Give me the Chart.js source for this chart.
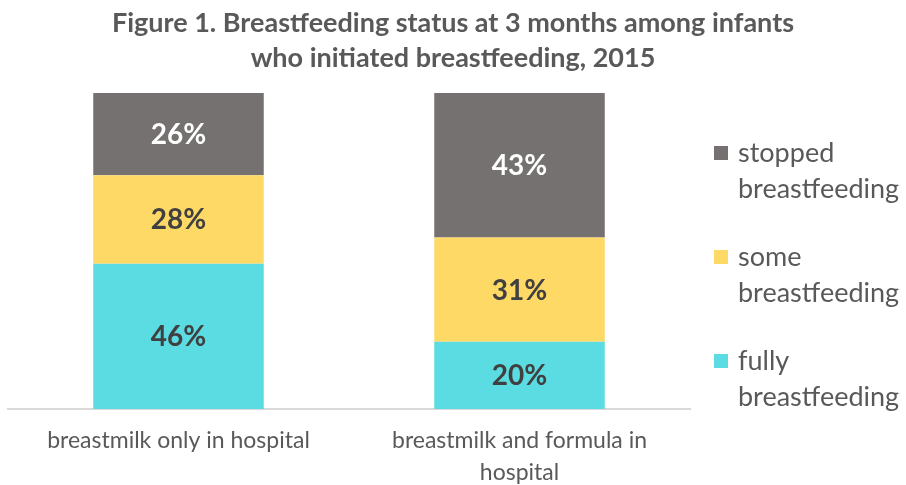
<!DOCTYPE html>
<html>
<head>
<meta charset="utf-8">
<script src="https://cdn.jsdelivr.net/npm/chart.js@4.4.0/dist/chart.umd.min.js"></script>
<style>
  html, body { margin: 0; padding: 0; background: #fff; }
  #wrap { width: 906px; height: 485px; }
</style>
</head>
<body>
<div id="wrap"><canvas id="graphCanvas" width="906" height="485"></canvas></div>
<script>
// categories (x axis), multi-line where the original wraps
var categories = [
  ['breastmilk only in hospital'],
  ['breastmilk and formula in', 'hospital']
];

// values as printed on the bars (percent)
var fully = [46, 20];
var some = [28, 31];
var stopped = [26, 43];

var titleLines = ['Figure 1. Breastfeeding status at 3 months among infants', 'who initiated breastfeeding, 2015'];
var seriesNames = ['fully breastfeeding', 'some breastfeeding', 'stopped breastfeeding'];
var legendLines = [['fully', 'breastfeeding'], ['some', 'breastfeeding'], ['stopped', 'breastfeeding']];
var colors = ['#5BDBE2', '#FFD966', '#767171'];
var labelColors = ['#404040', '#404040', '#ffffff'];

var FONT = 'Lato, "Open Sans", sans-serif';

// 100% stacked: share of each column total
var raw = [fully, some, stopped];
var totals = categories.map(function(c, i) {
  return fully[i] + some[i] + stopped[i];
});
function share(arr) {
  return arr.map(function(v, i) { return v / totals[i] * 100; });
}

var datasets = raw.map(function(arr, k) {
  return {
    label: seriesNames[k],
    data: share(arr),
    rawValues: arr,
    backgroundColor: colors[k],
    borderWidth: 0,
    barPercentage: 0.5,
    categoryPercentage: 1.0
  };
});

// value labels centred in each segment
var valueLabels = {
  id: 'valueLabels',
  afterDatasetsDraw: function(chart) {
    var ctx = chart.ctx;
    ctx.save();
    ctx.font = 'bold 28px ' + FONT;
    ctx.textAlign = 'center';
    ctx.textBaseline = 'middle';
    chart.data.datasets.forEach(function(ds, k) {
      var meta = chart.getDatasetMeta(k);
      meta.data.forEach(function(bar, i) {
        ctx.fillStyle = labelColors[k];
        ctx.fillText(ds.rawValues[i] + '%', bar.x, (bar.y + bar.base) / 2 + 1);
      });
    });
    ctx.restore();
  }
};

// title centred on the whole canvas, legend on the right (top series first)
var sideLegend = {
  id: 'sideLegend',
  afterDraw: function(chart) {
    var ctx = chart.ctx;
    var area = chart.chartArea;
    ctx.save();
    ctx.textBaseline = 'middle';

    ctx.font = 'bold 27px ' + FONT;
    ctx.textAlign = 'center';
    ctx.fillStyle = '#595959';
    ctx.fillText(titleLines[0], chart.width / 2, 23);
    ctx.fillText(titleLines[1], chart.width / 2, 58);

    var x = area.right + 24;
    var y0 = 153;
    var step = 104;
    ctx.font = '27px ' + FONT;
    ctx.textAlign = 'left';
    for (var n = 0; n < legendLines.length; n++) {
      var k = legendLines.length - 1 - n;
      var y = y0 + n * step;
      ctx.fillStyle = colors[k];
      ctx.fillRect(x, y - 7, 14, 14);
      ctx.fillStyle = '#595959';
      ctx.fillText(legendLines[k][0], x + 24, y);
      ctx.fillText(legendLines[k][1], x + 24, y + 36);
    }
    ctx.restore();
  }
};

var ctx = document.getElementById('graphCanvas');
var chart = new Chart(ctx, {
  type: 'bar',
  data: { labels: categories, datasets: datasets },
  plugins: [valueLabels, sideLegend],
  options: {
    responsive: false,
    animation: false,
    layout: { padding: { left: 8, right: 216, top: 93, bottom: 0 } },
    plugins: {
      legend: { display: false },
      tooltip: { enabled: false },
      title: { display: false }
    },
    scales: {
      x: {
        stacked: true,
        grid: { display: false, drawTicks: false },
        border: { display: true, color: '#d9d9d9', width: 2 },
        ticks: {
          color: '#595959',
          font: { family: FONT, size: 23, lineHeight: 1.38 },
          padding: 16,
          maxRotation: 0
        },
        afterFit: function(scale) { scale.height = 76; }
      },
      y: {
        stacked: true,
        display: false,
        min: 0,
        max: 100
      }
    }
  }
});
</script>
</body>
</html>
